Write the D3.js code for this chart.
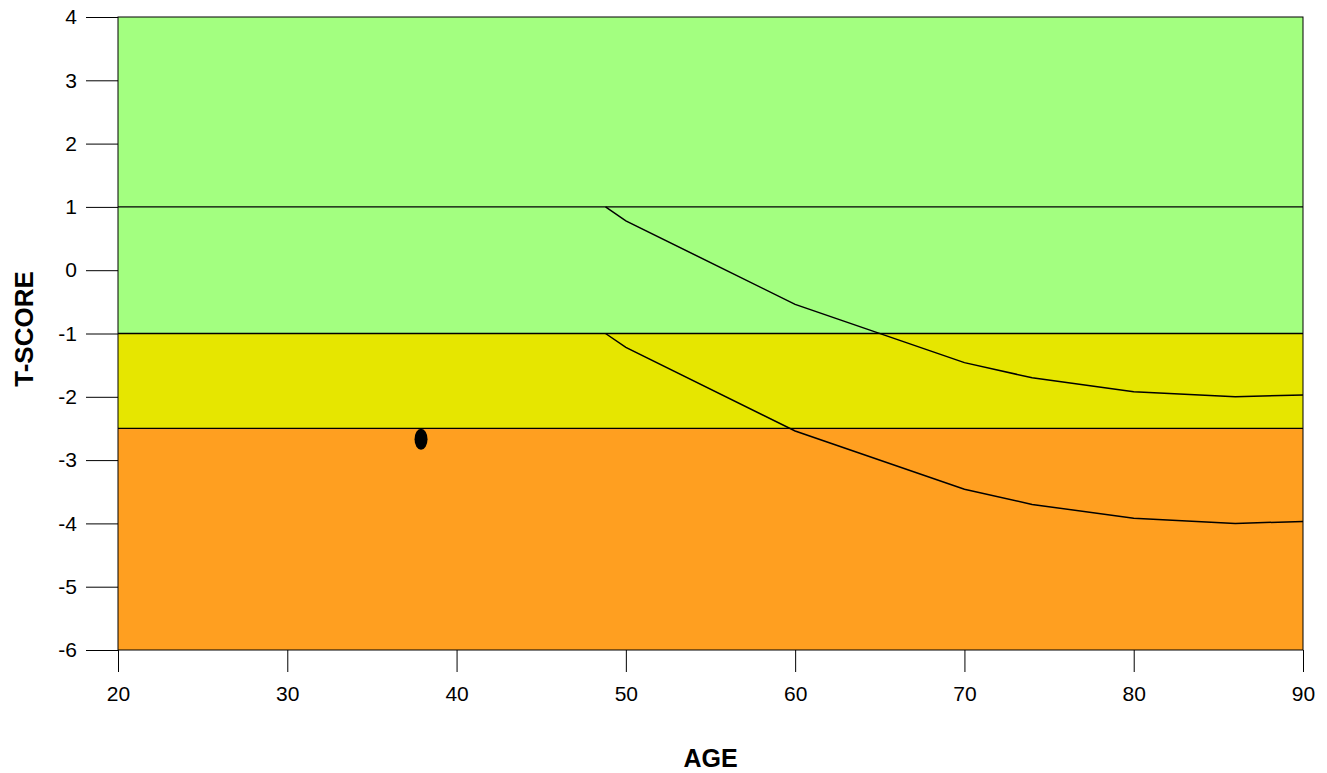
<!DOCTYPE html>
<html>
<head>
<meta charset="utf-8">
<script src="https://cdn.jsdelivr.net/npm/d3@7"></script>
<style>
  body { margin: 0; background: #fff; }
  text { font-family: "Liberation Sans", Arial, sans-serif; }
</style>
</head>
<body>
<div id="chart"></div>
<script>
// T-score bands (lower, upper, colour)
const bandLow = [1, -1, -2.5];
const bandHigh = [4, 1, -1];
const bandColor = ["#a3ff80", "#a3ff80", "#e6e600"];
const bandBottom = [-6, -2.5];
const bandBottomColor = "#ff9f20";

// reference lines
const refLines = [1, -1, -2.5];

// age curves
const curveAges = [48.8, 50, 60, 70, 74, 80, 86, 90];
const upperCurve = [1, 0.78, -0.54, -1.46, -1.7, -1.92, -2.0, -1.97];
const lowerCurve = [-1, -1.22, -2.54, -3.46, -3.7, -3.92, -4.0, -3.97];

// patient point
const patientAge = [37.9];
const patientT = [-2.67];

const xTicks = [20, 30, 40, 50, 60, 70, 80, 90];
const yTicks = [4, 3, 2, 1, 0, -1, -2, -3, -4, -5, -6];

const W = 1327, H = 773;
const margin = {top: 17, right: 24, bottom: 123, left: 118};
const width = W - margin.left - margin.right,
      height = H - margin.top - margin.bottom;

const svg = d3.select("#chart").append("svg")
    .attr("width", W)
    .attr("height", H);

const g = svg.append("g")
    .attr("transform", `translate(${margin.left},${margin.top})`);

const x = d3.scaleLinear().domain([20, 90]).range([0, width]);
const y = d3.scaleLinear().domain([-6, 4]).range([height, 0]);

// coloured bands
const bands = bandLow.map((lo, i) => ({lo: lo, hi: bandHigh[i], c: bandColor[i]}));
bands.push({lo: bandBottom[0], hi: bandBottom[1], c: bandBottomColor});
g.selectAll("rect.band")
  .data(bands)
  .enter().append("rect")
    .attr("class", "band")
    .attr("x", x(20))
    .attr("width", x(90) - x(20))
    .attr("y", d => y(d.hi))
    .attr("height", d => y(d.lo) - y(d.hi))
    .attr("fill", d => d.c);

// horizontal reference lines
g.selectAll("line.ref")
  .data(refLines)
  .enter().append("line")
    .attr("x1", x(20)).attr("x2", x(90))
    .attr("y1", d => y(d)).attr("y2", d => y(d))
    .attr("stroke", "#000")
    .attr("stroke-width", 1.3);

// frame
g.append("rect")
  .attr("x", 0).attr("y", 0)
  .attr("width", width).attr("height", height)
  .attr("fill", "none")
  .attr("stroke", "#000")
  .attr("stroke-width", 1);

// curves
const line = d3.line()
  .x((d, i) => x(curveAges[i]))
  .y(d => y(d));
[upperCurve, lowerCurve].forEach(c => {
  g.append("path")
    .datum(c)
    .attr("fill", "none")
    .attr("stroke", "#000")
    .attr("stroke-width", 1.5)
    .attr("d", line);
});

// patient point
g.selectAll("ellipse.pt")
  .data(patientAge)
  .enter().append("ellipse")
    .attr("cx", d => x(d))
    .attr("cy", (d, i) => y(patientT[i]))
    .attr("rx", 6.5)
    .attr("ry", 10.5)
    .attr("fill", "#000");

// axes
const yAxis = g.append("g")
  .call(d3.axisLeft(y).tickValues(yTicks).tickFormat(d => String(d)).tickSize(32).tickPadding(9));
const xAxis = g.append("g")
  .attr("transform", `translate(0,${height})`)
  .call(d3.axisBottom(x).tickValues(xTicks).tickFormat(d => String(d)).tickSize(22).tickPadding(14));

[yAxis, xAxis].forEach(a => {
  a.attr("font-size", null).attr("font-family", null);
  a.select(".domain").remove();
  a.selectAll("text").attr("font-size", 21).attr("fill", "#000");
  a.selectAll("line").attr("stroke", "#000");
});

// axis titles
svg.append("text")
  .attr("x", margin.left + width / 2)
  .attr("y", 767)
  .attr("text-anchor", "middle")
  .attr("font-size", 25)
  .attr("font-weight", "bold")
  .text("AGE");

svg.append("text")
  .attr("transform", `translate(33,329) rotate(-90)`)
  .attr("text-anchor", "middle")
  .attr("font-size", 26)
  .attr("font-weight", "bold")
  .text("T-SCORE");
</script>
</body>
</html>
